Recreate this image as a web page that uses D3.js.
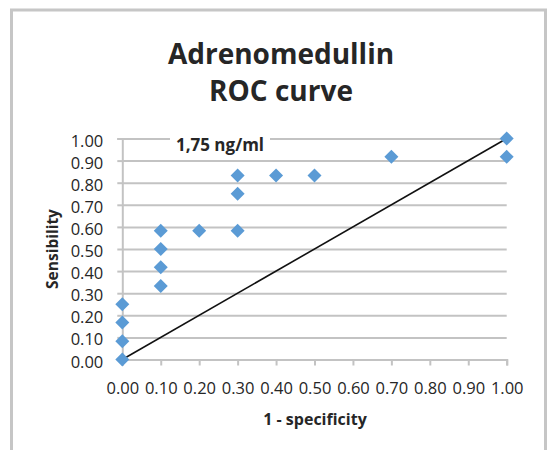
<!DOCTYPE html>
<html>
<head>
<meta charset="utf-8">
<script src="https://cdn.jsdelivr.net/npm/d3@7/dist/d3.min.js"></script>
<style>
  html, body { margin: 0; padding: 0; background: #fff; }
  svg { display: block; }
  text { font-family: "Open Sans", "DejaVu Sans", sans-serif; fill: #262626; }
</style>
</head>
<body>
<script>
// ---- data ----
const titleLines = ["Adrenomedullin", "ROC curve"];
const xLabel = "1 - specificity";
const yLabel = "Sensibility";
const annotation = "1,75 ng/ml";
const fpr = [0, 0, 0, 0, 0.1, 0.1, 0.1, 0.1, 0.2, 0.3, 0.3, 0.3, 0.4, 0.5, 0.7, 1, 1];
const tpr = [0, 0.083, 0.167, 0.25, 0.333, 0.417, 0.5, 0.583, 0.583, 0.583, 0.75, 0.833, 0.833, 0.833, 0.917, 0.917, 1];
const xTicks = [0, 0.1, 0.2, 0.3, 0.4, 0.5, 0.6, 0.7, 0.8, 0.9, 1.0];
const yTicks = [0, 0.1, 0.2, 0.3, 0.4, 0.5, 0.6, 0.7, 0.8, 0.9, 1.0];
const refLine = [[0, 0], [1, 1]];

const W = 550, H = 450;
const svg = d3.select("body").append("svg").attr("width", W).attr("height", H);

// chart frame
svg.append("rect")
  .attr("x", 11.5).attr("y", 10).attr("width", 534).attr("height", 460)
  .attr("fill", "#fff").attr("stroke", "#c6c6c6").attr("stroke-width", 3);

const x = d3.scaleLinear().domain([0, 1]).range([122.3, 506.7]);
const y = d3.scaleLinear().domain([0, 1]).range([359.5, 138.5]);
const fmt = d3.format(".2f");

// gridlines
svg.append("g")
  .attr("transform", `translate(${x(0)},0)`)
  .call(d3.axisLeft(y).tickValues(yTicks).tickSize(-(x(1) - x(0))).tickFormat(""))
  .call(g => g.select(".domain").remove())
  .call(g => g.selectAll(".tick line").attr("stroke", "#c3c3c3").attr("stroke-width", 2));

// y axis
const yAx = svg.append("g")
  .attr("transform", `translate(${x(0)},0)`)
  .call(d3.axisLeft(y).tickValues(yTicks).tickSize(5).tickPadding(14).tickFormat(fmt));
yAx.select(".domain").attr("stroke", "#c3c3c3").attr("stroke-width", 2);
yAx.selectAll(".tick line").attr("stroke", "#c3c3c3").attr("stroke-width", 2);
yAx.selectAll(".tick text")
  .attr("font-size", 16.5).attr("dy", "0.46em")
  .style("font-family", '"Open Sans", sans-serif').attr("fill", "#333");

// x axis
const xAx = svg.append("g")
  .attr("transform", `translate(0,${y(0)})`)
  .call(d3.axisBottom(x).tickValues(xTicks).tickSize(6).tickPadding(17).tickFormat(fmt));
xAx.select(".domain").attr("stroke", "#c3c3c3").attr("stroke-width", 2);
xAx.selectAll(".tick line").attr("stroke", "#c3c3c3").attr("stroke-width", 2);
xAx.selectAll(".tick text")
  .attr("font-size", 16.5)
  .style("font-family", '"Open Sans", sans-serif').attr("fill", "#333");

// reference diagonal
svg.append("path")
  .datum(refLine)
  .attr("d", d3.line().x(d => x(d[0])).y(d => y(d[1])))
  .attr("fill", "none").attr("stroke", "#111").attr("stroke-width", 1.6);

// points
const pts = fpr.map((v, i) => ({ fx: v, ty: tpr[i] }));
svg.append("g").selectAll("path").data(pts).enter().append("path")
  .attr("d", d3.symbol(d3.symbolSquare, 98)())
  .attr("transform", d => `translate(${x(d.fx)},${y(d.ty)}) rotate(45)`)
  .attr("fill", "#5b9bd5");

// annotation
const ann = svg.append("g");
ann.append("rect").attr("x", 170).attr("y", 136).attr("width", 100).attr("height", 14).attr("fill", "#fff");
ann.append("text")
  .attr("x", 220).attr("y", 150.5).attr("text-anchor", "middle")
  .attr("font-size", 17).attr("font-weight", "bold")
  .text(annotation);

// title
svg.append("g").selectAll("text").data(titleLines).enter().append("text")
  .attr("x", 281).attr("y", (d, i) => 63.5 + i * 37.5)
  .attr("text-anchor", "middle")
  .attr("font-size", 28).attr("font-weight", "bold").attr("fill", "#000")
  .text(d => d);

// axis titles
svg.append("text")
  .attr("x", 315).attr("y", 424.5).attr("text-anchor", "middle")
  .attr("font-size", 16).attr("font-weight", "bold")
  .text(xLabel);

svg.append("text")
  .attr("transform", `translate(58,249) rotate(-90)`)
  .attr("text-anchor", "middle")
  .attr("font-size", 15.5).attr("font-weight", "bold")
  .text(yLabel);
</script>
</body>
</html>
